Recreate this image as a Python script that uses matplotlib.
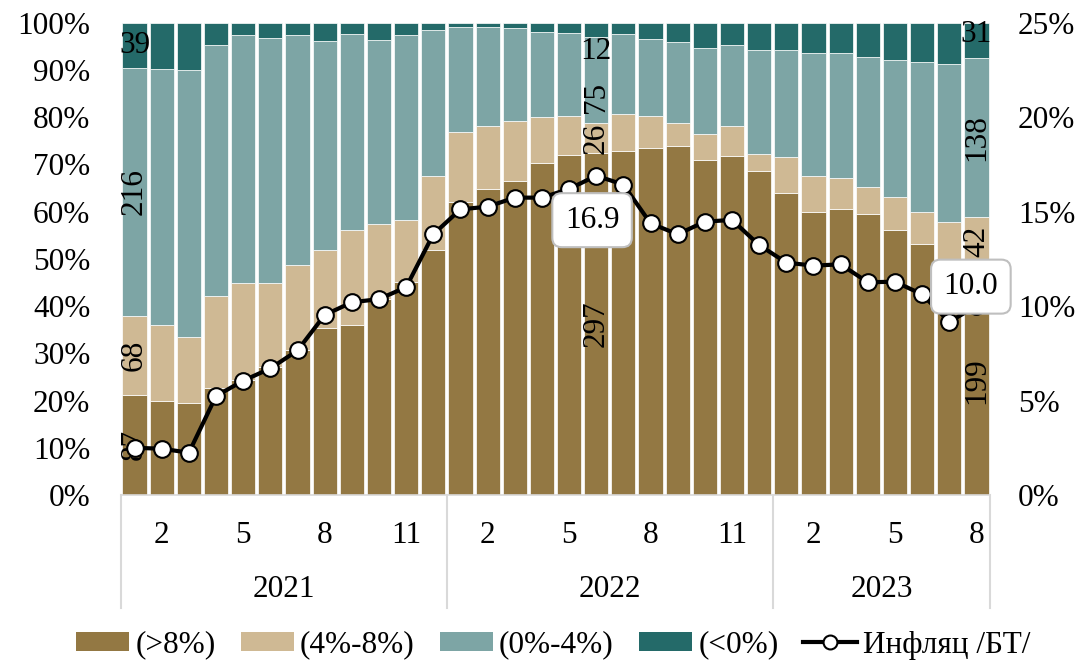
import matplotlib
matplotlib.use("Agg")
import matplotlib.pyplot as plt
import numpy as np
from matplotlib.patches import Patch
from matplotlib.lines import Line2D
import matplotlib.transforms as mtransforms

plt.rcParams['font.family'] = ['Liberation Serif', 'DejaVu Serif']
FS = 22.5

# ---- data ----
years = ["2021", "2022", "2023"]
months = [1,2,3,4,5,6,7,8,9,10,11,12,
          1,2,3,4,5,6,7,8,9,10,11,12,
          1,2,3,4,5,6,7,8]
series_names = ["(>8%)", "(4%-8%)", "(0%-4%)", "(<0%)"]
gt8   = [87, 82, 80, 93, 100, 111, 126, 145, 148, 170, 185, 213,
         254, 266, 273, 288, 295, 297, 299, 301, 303, 291, 294, 281,
         262, 246, 248, 244, 230, 218, 204, 199]
p4_8  = [68, 66, 57, 80, 84, 73, 74, 68, 82, 65, 54, 64,
         61, 54, 52, 40, 34, 26, 32, 28, 20, 22, 26, 15,
         31, 31, 27, 23, 29, 28, 33, 42]
p0_4  = [216, 222, 232, 218, 215, 213, 199, 181, 170, 160, 160, 127,
         91, 86, 80, 74, 72, 75, 69, 67, 70, 75, 71, 90,
         93, 107, 109, 113, 119, 130, 137, 138]
lt0   = [39, 40, 41, 19, 11, 13, 11, 16, 10, 15, 11, 6,
         4, 4, 5, 8, 9, 12, 10, 14, 17, 22, 19, 24,
         24, 26, 26, 30, 32, 34, 36, 31]
inflation = [2.50, 2.45, 2.24, 5.24, 6.05, 6.70, 7.65, 9.53, 10.2, 10.37, 11.0, 13.8,
             15.12, 15.26, 15.74, 15.74, 16.2, 16.9, 16.43, 14.38, 13.8, 14.47, 14.56, 13.23,
             12.3, 12.14, 12.21, 11.26, 11.29, 10.62, 9.17, 10.0]
line_name = "Инфляц /БТ/"
labeled_bars = [0, 17, 31]
value_label_points = [17, 31]

colors = ["#937843", "#CFB994", "#7DA5A5", "#246A69"]

counts = np.array([gt8, p4_8, p0_4, lt0], dtype=float)
totals = counts.sum(axis=0)
shares = counts / totals * 100
n = counts.shape[1]
x = np.arange(n)

fig = plt.figure(figsize=(10.76, 6.64), dpi=100)
ax = fig.add_axes([121/1076, 1-495/664, (990-121)/1076, (495-22.7)/664])

bottom = np.zeros(n)
for i in range(4):
    ax.bar(x, shares[i], bottom=bottom, width=0.89, color=colors[i],
           edgecolor='white', linewidth=0.5, zorder=2)
    bottom += shares[i]

# count labels
offsets = {(17, 2): -13, (17, 3): -15.6, (31, 3): 4}
for b in labeled_bars:
    cum = 0
    for i in range(4):
        c = cum + shares[i, b] / 2
        cum += shares[i, b]
        rot = 0 if i == 3 else 90
        dy = offsets.get((b, i), 0)
        ax.annotate(f"{int(counts[i, b])}", (x[b], c), xytext=(0, dy),
                    textcoords='offset points', ha='center', va='center',
                    rotation=rot, fontsize=FS, zorder=3)

ax.set_xlim(-0.5, n - 0.5)
ax.set_ylim(0, 100)
ax.set_yticks(np.arange(0, 101, 10))
ax.set_yticklabels([f"{v}%" for v in range(0, 101, 10)], fontsize=FS)
ax.tick_params(axis='y', length=0, pad=22)
tick_pos = [i for i, m in enumerate(months) if m in (2, 5, 8, 11)]
ax.set_xticks(tick_pos)
ax.set_xticklabels([str(months[i]) for i in tick_pos], fontsize=FS)
ax.tick_params(axis='x', length=0, pad=19)
for s in ['top', 'left', 'right']:
    ax.spines[s].set_visible(False)
ax.spines['bottom'].set_color('#d9d9d9')
ax.spines['bottom'].set_linewidth(1.2)

# year groups
trans = mtransforms.blended_transform_factory(ax.transData, ax.transAxes)
year_idx = np.array([0]*12 + [1]*12 + [2]*8)
seps = [-0.5]
for k in range(len(years)):
    idx = np.where(year_idx == k)[0]
    seps.append(idx[-1] + 0.5)
    ax.text((idx[0] + idx[-1]) / 2, -0.201, years[k], transform=trans,
            ha='center', va='center', fontsize=FS)
for s in seps:
    ax.plot([s, s], [0, -0.239], transform=trans, color='#d9d9d9',
            lw=1.5, clip_on=False, zorder=1)

# inflation line on secondary axis
ax2 = ax.twinx()
ax2.plot(x, inflation, color='black', lw=3, marker='o', markersize=12,
         markerfacecolor='white', markeredgecolor='black', markeredgewidth=1.5,
         zorder=5)
ax2.set_ylim(0, 25)
ax2.set_yticks(np.arange(0, 26, 5))
ax2.set_yticklabels([f"{v}%" for v in range(0, 26, 5)], fontsize=FS)
ax2.tick_params(axis='y', length=0, pad=20)
for s in ['top', 'left', 'right', 'bottom']:
    ax2.spines[s].set_visible(False)

lbl_off = {17: (-3, -32), 31: (-4, 14)}
for b in value_label_points:
    ax2.annotate(f"{inflation[b]:.1f}", (x[b], inflation[b]), xytext=lbl_off[b],
                 textcoords='offset points', ha='center', va='center',
                 fontsize=FS, zorder=10,
                 bbox=dict(boxstyle='round,pad=0.4,rounding_size=0.3',
                           fc='white', ec='#bfbfbf', lw=1.5))

handles = [Patch(facecolor=colors[i], edgecolor='none') for i in range(4)]
handles.append(Line2D([0], [0], color='black', lw=3, marker='o', markersize=10,
                      markerfacecolor='white', markeredgecolor='black',
                      markeredgewidth=1.5))
fig.legend(handles, series_names + [line_name], loc='center',
           bbox_to_anchor=(553/1076, 1-645/664), ncol=5, frameon=False,
           fontsize=FS, handlelength=1.7, handleheight=0.6,
           handletextpad=0.2, columnspacing=0.8, borderpad=0)

fig.savefig("out.png", dpi=100)
